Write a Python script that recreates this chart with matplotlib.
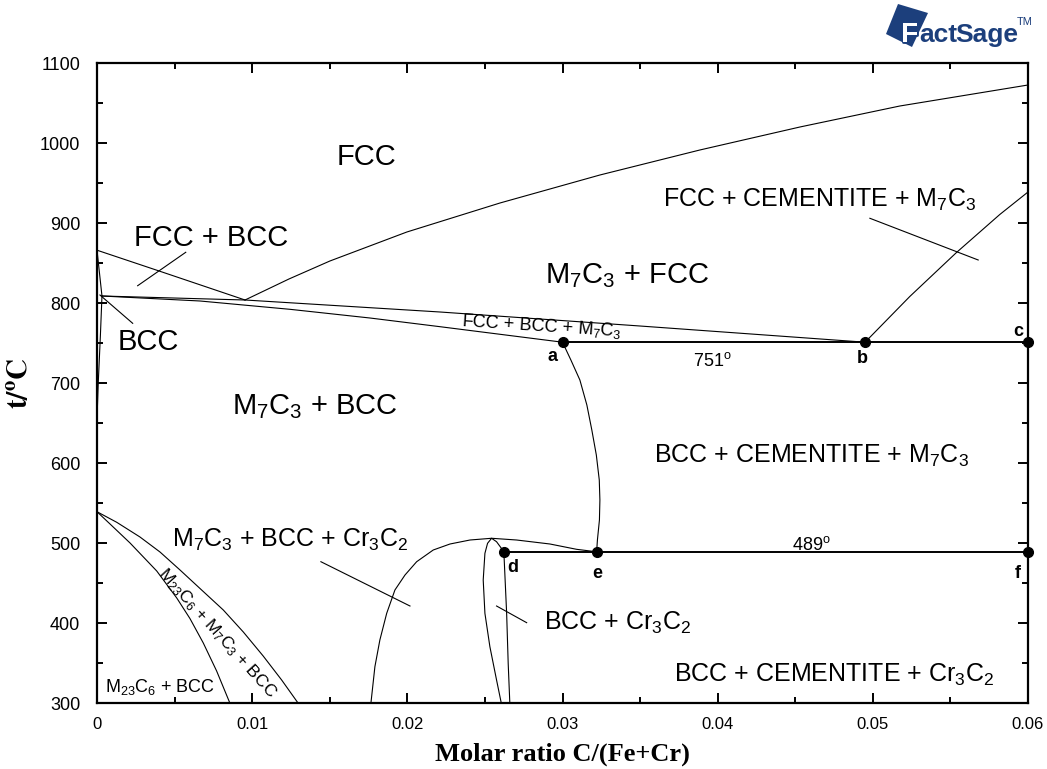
import matplotlib
matplotlib.use("Agg")
import matplotlib.pyplot as plt
from matplotlib.ticker import MultipleLocator, FixedLocator, FixedFormatter
import matplotlib.patheffects as pe
from matplotlib.patches import Polygon

plt.rcParams['font.family'] = ['Liberation Sans', 'DejaVu Sans']
plt.rcParams['mathtext.fontset'] = 'custom'
plt.rcParams['mathtext.rm'] = 'Liberation Sans'
plt.rcParams['mathtext.it'] = 'Liberation Sans:italic'
plt.rcParams['mathtext.bf'] = 'Liberation Sans:bold'

# ---- axis ticks ----
x_ticks = [0.0, 0.01, 0.02, 0.03, 0.04, 0.05, 0.06]
x_tick_labels = ['0', '0.01', '0.02', '0.03', '0.04', '0.05', '0.06']
y_ticks = [300, 400, 500, 600, 700, 800, 900, 1000, 1100]
y_tick_labels = ['300', '400', '500', '600', '700', '800', '900', '1000', '1100']

# ---- phase boundaries (molar ratio C/(Fe+Cr), temperature in C) ----
fcc_top_x = [0.00954, 0.01237, 0.01501, 0.01997, 0.02597, 0.03241, 0.03885, 0.04530, 0.05174, 0.0600]
fcc_top_y = [803.75, 830.0, 852.5, 888.75, 925.0, 960.0, 991.25, 1020.0, 1046.25, 1072.5]

fcc_bcc_top_x = [0.0, 0.00385, 0.00954]
fcc_bcc_top_y = [866.0, 841.0, 803.75]

bcc_fcc_x = [0.0, 0.00032]
bcc_fcc_y = [866.0, 808.75]

bcc_solvus_x = [0.00032, 0.00022, 0.00008, 0.0]
bcc_solvus_y = [808.75, 760.0, 700.0, 655.0]

three_phase_top_x = [0.00032, 0.00954, 0.02211, 0.03499, 0.0495]
three_phase_top_y = [808.75, 803.75, 788.75, 771.25, 751.0]

three_phase_bot_x = [0.00032, 0.00664, 0.01244, 0.01759, 0.02210, 0.0300]
three_phase_bot_y = [808.75, 802.5, 792.1, 781.25, 770.4, 751.0]

a_to_e_x = [0.0300, 0.03054, 0.03112, 0.03157, 0.03189, 0.03218, 0.03237, 0.03241,
            0.03238, 0.03225, 0.0322]
a_to_e_y = [751.0, 728.75, 703.75, 672.5, 641.25, 610.0, 578.75, 553.75,
            528.75, 503.75, 489.0]

b_line_x = [0.0495, 0.05238, 0.05539, 0.05818, 0.0600]
b_line_y = [751.0, 808.1, 863.1, 910.6, 938.75]

cr3c2_dome_x = [0.01764, 0.01791, 0.01823, 0.01867, 0.01920, 0.01985, 0.02060, 0.02167,
                0.02275, 0.02404, 0.02543, 0.02704, 0.02919, 0.03091, 0.0322]
cr3c2_dome_y = [297.5, 345.4, 378.75, 412.1, 441.25, 460.0, 476.6, 491.25,
                498.75, 503.75, 505.9, 503.75, 498.75, 492.1, 489.0]

cr3c2_loop_x = [0.02608, 0.02575, 0.02532, 0.02500, 0.02489, 0.02500, 0.02517, 0.02543,
                0.02575, 0.02600, 0.02622, 0.02640, 0.02650, 0.02661]
cr3c2_loop_y = [297.5, 328.75, 370.4, 412.1, 453.75, 487.1, 499.6, 505.9,
                501.6, 495.0, 489.0, 412.1, 349.6, 297.5]

m23_inner_x = [0.0, 0.00084, 0.00213, 0.00385, 0.00514, 0.00599, 0.00685, 0.00771, 0.00857]
m23_inner_y = [539.1, 523.75, 500.0, 465.0, 431.25, 405.6, 375.0, 340.0, 299.6]

m23_outer_x = [0.0, 0.00127, 0.00277, 0.00406, 0.00535, 0.00664, 0.00814, 0.00943,
               0.01071, 0.0119, 0.01297]
m23_outer_y = [539.1, 525.9, 507.5, 488.75, 466.25, 443.1, 416.25, 388.75,
               358.75, 328.75, 299.6]

# ---- invariant reactions ----
eutectoid_T = 751
eutectoid_x = [0.0300, 0.0600]
lower_T = 489
lower_x = [0.02622, 0.0600]

point_names = ['a', 'b', 'c', 'd', 'e', 'f']
point_x = [0.0300, 0.0495, 0.0600, 0.02622, 0.0322, 0.0600]
point_y = [751, 751, 751, 489, 489, 489]

# ---- leader lines from region labels ----
leaders = [
    ((0.00262, 821.6), (0.00572, 863.4)),
    ((0.00019, 810.0), (0.00230, 774.6)),
    ((0.04981, 905.9), (0.05679, 853.75)),
    ((0.01443, 476.6), (0.02017, 421.25)),
    ((0.02575, 421.25), (0.02769, 400.4)),
]

fig = plt.figure(figsize=(10.47, 7.69), dpi=100)
ax = fig.add_axes([97 / 1047, 1 - 703 / 769, (1028 - 97) / 1047, (703 - 63) / 769])
ax.set_xlim(0, 0.06)
ax.set_ylim(300, 1100)

lw = 0.8
for xs, ys in [(fcc_top_x, fcc_top_y), (fcc_bcc_top_x, fcc_bcc_top_y),
               (bcc_fcc_x, bcc_fcc_y), (bcc_solvus_x, bcc_solvus_y),
               (three_phase_top_x, three_phase_top_y), (three_phase_bot_x, three_phase_bot_y),
               (a_to_e_x, a_to_e_y), (b_line_x, b_line_y),
               (cr3c2_dome_x, cr3c2_dome_y), (cr3c2_loop_x, cr3c2_loop_y),
               (m23_inner_x, m23_inner_y), (m23_outer_x, m23_outer_y)]:
    ax.plot(xs, ys, color='black', lw=lw, solid_joinstyle='round')

ax.plot(eutectoid_x, [eutectoid_T] * 2, color='black', lw=1.4)
ax.plot(lower_x, [lower_T] * 2, color='black', lw=1.4)

for (x0, y0), (x1, y1) in leaders:
    ax.plot([x0, x1], [y0, y1], color='black', lw=lw)

ax.plot(point_x, point_y, 'o', color='black', ms=7, clip_on=False, zorder=5)

# point letters
letter_pos = {'a': (0.02938, 727.5), 'b': (0.04929, 725.0), 'c': (0.05934, 758.75),
              'd': (0.0268, 463.75), 'e': (0.03222, 456.0), 'f': (0.05934, 456.0)}
for name in point_names:
    lx, ly = letter_pos[name]
    ax.text(lx, ly, name, fontsize=13, fontweight='bold', ha='center', va='baseline')

big = 21
mid = 18
small = 13
region_labels = [
    ('FCC', 0.0174, 972.5, big),
    ('FCC + BCC', 0.00735, 871.25, big),
    (r'M$_7$C$_3$ + FCC', 0.03415, 825.0, big),
    ('BCC', 0.00329, 741.25, big),
    (r'M$_7$C$_3$ + BCC', 0.01405, 661.25, big),
    (r'FCC + CEMENTITE + M$_7$C$_3$', 0.04659, 920.0, mid),
    (r'BCC + CEMENTITE + M$_7$C$_3$', 0.04607, 600.0, mid),
    (r'M$_7$C$_3$ + BCC + Cr$_3$C$_2$', 0.01244, 495.0, mid),
    (r'BCC + Cr$_3$C$_2$', 0.03357, 391.25, mid),
    (r'BCC + CEMENTITE + Cr$_3$C$_2$', 0.04749, 326.25, mid),
    (r'M$_{23}$C$_6$ + BCC', 0.00406, 313.75, small),
]
for txt, tx, ty, fs in region_labels:
    ax.text(tx, ty, txt, fontsize=fs, ha='center', va='baseline')

ax.text(0.02867, 771.0, r'FCC + BCC + M$_7$C$_3$', fontsize=small, ha='center',
        va='center', rotation=-3.7, rotation_mode='anchor')
ax.text(0.00773, 387.0, r'M$_{23}$C$_6$ + M$_7$C$_3$ + BCC', fontsize=12.5, ha='center',
        va='center', rotation=-48, rotation_mode='anchor')

ax.text(0.03963, 721.25, r'751$^{\mathrm{o}}$', fontsize=small, ha='center', va='baseline')
ax.text(0.04607, 491.0, r'489$^{\mathrm{o}}$', fontsize=small, ha='center', va='baseline')

# axes styling
for sp in ax.spines.values():
    sp.set_linewidth(1.6)
ax.xaxis.set_major_locator(FixedLocator(x_ticks))
ax.xaxis.set_major_formatter(FixedFormatter(x_tick_labels))
ax.yaxis.set_major_locator(FixedLocator(y_ticks))
ax.yaxis.set_major_formatter(FixedFormatter(y_tick_labels))
ax.xaxis.set_minor_locator(MultipleLocator(0.005))
ax.yaxis.set_minor_locator(MultipleLocator(50))
ax.tick_params(which='both', direction='in', top=True, right=True, width=1.4)
ax.tick_params(which='major', length=7)
ax.tick_params(which='minor', length=4)
ax.tick_params(axis='x', labelsize=12, pad=10)
ax.tick_params(axis='y', labelsize=13, pad=12)

ax.set_xlabel('Molar ratio C/(Fe+Cr)', fontsize=19, fontweight='bold',
              family='Liberation Serif', labelpad=8)
ax.set_ylabel(r'$\mathbf{t/^{o}C}$', fontsize=21, math_fontfamily='stix')
ax.yaxis.set_label_coords(-0.068, 0.5)

# FactSage badge
navy = '#1c3f7c'
W, H = 1047, 769
badge = Polygon([(898 / W, 1 - 4 / H), (928 / W, 1 - 13 / H), (912 / W, 1 - 47 / H),
                 (886 / W, 1 - 34 / H)], closed=True, transform=fig.transFigure,
                facecolor=navy, edgecolor='none')
fig.patches.append(badge)
fig.text(901 / W, 1 - 42 / H, 'F', fontsize=20, fontweight='bold', color='white',
         va='baseline', ha='left',
         path_effects=[pe.withStroke(linewidth=2, foreground=navy)])
fig.text(919 / W, 1 - 42 / H, 'act', fontsize=19, fontweight='bold', color=navy,
         va='baseline', ha='left')
fig.text(955 / W, 1 - 42 / H, 'Sage', fontsize=19, color=navy, fontweight='bold',
         va='baseline', ha='left')
fig.text(1017 / W, 1 - 25 / H, 'TM', fontsize=8, color=navy, va='baseline', ha='left')

fig.savefig('out.png', dpi=100)
